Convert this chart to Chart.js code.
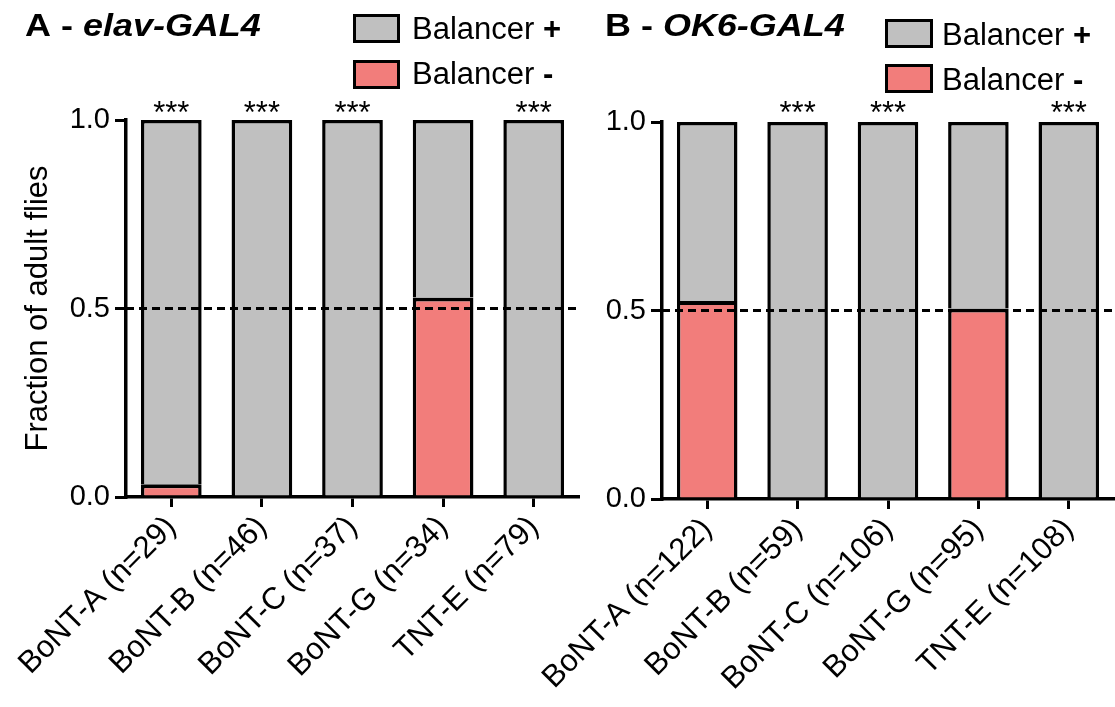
<!DOCTYPE html>
<html>
<head>
<meta charset="utf-8">
<script src="https://cdn.jsdelivr.net/npm/chart.js@4/dist/chart.umd.min.js"></script>
<style>
  html, body { margin: 0; padding: 0; background: #fff; }
  #wrap { position: relative; width: 1115px; height: 707px; overflow: hidden; }
  #cA { position: absolute; left: 0; top: 0; }
  #cB { position: absolute; left: 440px; top: 0; }
</style>
</head>
<body>
<div id="wrap">
  <canvas id="cA" width="580" height="707"></canvas>
  <canvas id="cB" width="675" height="707"></canvas>
</div>
<script>
// Panel A: elav-GAL4
const categoriesA = ['BoNT-A (n=29)', 'BoNT-B (n=46)', 'BoNT-C (n=37)', 'BoNT-G (n=34)', 'TNT-E (n=79)'];
const balancerMinusA = [0.034, 0, 0, 0.529, 0];
const balancerPlusA = [0.966, 1, 1, 0.471, 1];
const starsA = ['***', '***', '***', '', '***'];

// Panel B: OK6-GAL4
const categoriesB = ['BoNT-A (n=122)', 'BoNT-B (n=59)', 'BoNT-C (n=106)', 'BoNT-G (n=95)', 'TNT-E (n=108)'];
const balancerMinusB = [0.525, 0, 0, 0.505, 0];
const balancerPlusB = [0.475, 1, 1, 0.495, 1];
const starsB = ['', '***', '***', '', '***'];

const yTickValues = [0, 0.5, 1];
const expectedFraction = 0.5;

const FONT = '"Liberation Sans", Arial, Helvetica, sans-serif';
const GREY = '#c0c0c0';
const RED = '#f27d7b';

// Draws the 0.5 reference line, significance stars, panel title and legend
const panelDecor = {
  id: 'panelDecor',
  afterDatasetsDraw(chart, args, opts) {
    const ctx = chart.ctx;
    const area = chart.chartArea;
    const y = chart.scales.y;
    const x = chart.scales.x;

    // dashed line at the expected fraction
    ctx.save();
    ctx.strokeStyle = '#000';
    ctx.lineWidth = 3;
    ctx.setLineDash([8, 5]);
    const yy = y.getPixelForValue(expectedFraction);
    ctx.beginPath();
    ctx.moveTo(area.left, yy);
    ctx.lineTo(area.right, yy);
    ctx.stroke();
    ctx.restore();

    // significance stars
    ctx.save();
    ctx.fillStyle = '#000';
    ctx.font = '31px ' + FONT;
    ctx.textAlign = 'center';
    ctx.textBaseline = 'alphabetic';
    opts.stars.forEach((s, i) => {
      if (!s) return;
      ctx.fillText(s, x.getPixelForValue(i), y.getPixelForValue(1) + opts.starDy);
    });
    ctx.restore();

    // panel title: bold letter, bold italic driver name
    ctx.save();
    ctx.fillStyle = '#000';
    ctx.translate(opts.titleX, opts.titleY);
    ctx.scale(1.16, 1);
    ctx.textBaseline = 'alphabetic';
    ctx.textAlign = 'left';
    ctx.font = 'bold 31px ' + FONT;
    ctx.fillText(opts.titlePrefix, 0, 0);
    const w = ctx.measureText(opts.titlePrefix).width;
    ctx.font = 'italic bold 31px ' + FONT;
    ctx.fillText(opts.titleDriver, w, 0);
    ctx.restore();

    // legend
    const items = [
      { fill: GREY, sign: '+', top: opts.legendTop[0], base: opts.legendBase[0] },
      { fill: RED, sign: '-', top: opts.legendTop[1], base: opts.legendBase[1] }
    ];
    items.forEach(it => {
      ctx.save();
      ctx.fillStyle = it.fill;
      ctx.fillRect(opts.legendX, it.top, opts.boxW, opts.boxH);
      ctx.strokeStyle = '#000';
      ctx.lineWidth = 3;
      ctx.strokeRect(opts.legendX + 1.5, it.top + 1.5, opts.boxW - 3, opts.boxH - 3);
      ctx.fillStyle = '#000';
      ctx.textBaseline = 'alphabetic';
      ctx.textAlign = 'left';
      ctx.font = '31px ' + FONT;
      const label = 'Balancer ';
      ctx.fillText(label, opts.textX, it.base);
      const lw = ctx.measureText(label).width;
      ctx.font = 'bold 31px ' + FONT;
      ctx.fillText(it.sign, opts.textX + lw, it.base);
      ctx.restore();
    });
  }
};

function makePanel(canvasId, labels, minus, plus, cfg) {
  return new Chart(document.getElementById(canvasId), {
    type: 'bar',
    data: {
      labels: labels,
      datasets: [
        {
          label: 'Balancer -',
          data: minus,
          backgroundColor: RED,
          borderColor: '#000',
          // the top edge of this segment is the divider between the two stacks
          borderWidth: { top: 4, left: 3.5, right: 3.5, bottom: 0 },
          borderSkipped: false,
          inflateAmount: 0,
          barPercentage: 0.67,
          categoryPercentage: 1
        },
        {
          label: 'Balancer +',
          data: plus,
          backgroundColor: GREY,
          borderColor: '#000',
          borderWidth: { top: 3.5, left: 3.5, right: 3.5, bottom: 0 },
          borderSkipped: false,
          inflateAmount: 0,
          barPercentage: 0.67,
          categoryPercentage: 1
        }
      ]
    },
    options: {
      responsive: false,
      animation: false,
      layout: { padding: { left: 0, top: cfg.top, right: cfg.right, bottom: 0 } },
      plugins: {
        legend: { display: false },
        tooltip: { enabled: false },
        panelDecor: cfg.decor
      },
      scales: {
        x: {
          stacked: true,
          grid: { display: true, offset: false, drawOnChartArea: false, drawTicks: true, tickLength: 10, lineWidth: 3, color: '#000' },
          border: { display: true, width: 3.5, color: '#000' },
          ticks: {
            autoSkip: false, maxRotation: 45, minRotation: 45, padding: 2,
            color: '#000', font: { family: FONT, size: 31 }
          },
          afterFit(s) { s.height = cfg.xHeight; s.paddingLeft = 0; s.paddingRight = 0; }
        },
        y: {
          stacked: true,
          min: 0, max: 1,
          afterBuildTicks(s) { s.ticks = yTickValues.map(v => ({ value: v })); },
          grid: { display: true, drawOnChartArea: false, drawTicks: true, tickLength: 11, lineWidth: 3, color: '#000' },
          border: { display: true, width: 3.5, color: '#000' },
          ticks: {
            padding: 5, color: '#000', font: { family: FONT, size: 29 },
            callback: v => Number(v).toFixed(1)
          },
          title: cfg.yTitle,
          afterFit(s) { s.width = cfg.yWidth; }
        }
      }
    },
    plugins: [panelDecor]
  });
}

makePanel('cA', categoriesA, balancerMinusA, balancerPlusA, {
  top: 120, right: 1, xHeight: 210, yWidth: 126,
  yTitle: { display: true, text: 'Fraction of adult flies', color: '#000',
            font: { family: FONT, size: 31 }, padding: { top: 20, bottom: 0 } },
  decor: {
    stars: starsA, starDy: 3,
    titlePrefix: 'A - ', titleDriver: 'elav-GAL4', titleX: 25, titleY: 36,
    legendX: 353, textX: 412, boxW: 47, boxH: 29,
    legendTop: [14, 60], legendBase: [39, 84]
  }
});

makePanel('cB', categoriesB, balancerMinusB, balancerPlusB, {
  top: 122, right: 1, xHeight: 208, yWidth: 222,
  yTitle: { display: false },
  decor: {
    stars: starsB, starDy: 1,
    titlePrefix: 'B - ', titleDriver: 'OK6-GAL4', titleX: 165, titleY: 36,
    legendX: 445, textX: 502, boxW: 48, boxH: 29,
    legendTop: [19, 64], legendBase: [45, 90]
  }
});
</script>
</body>
</html>
